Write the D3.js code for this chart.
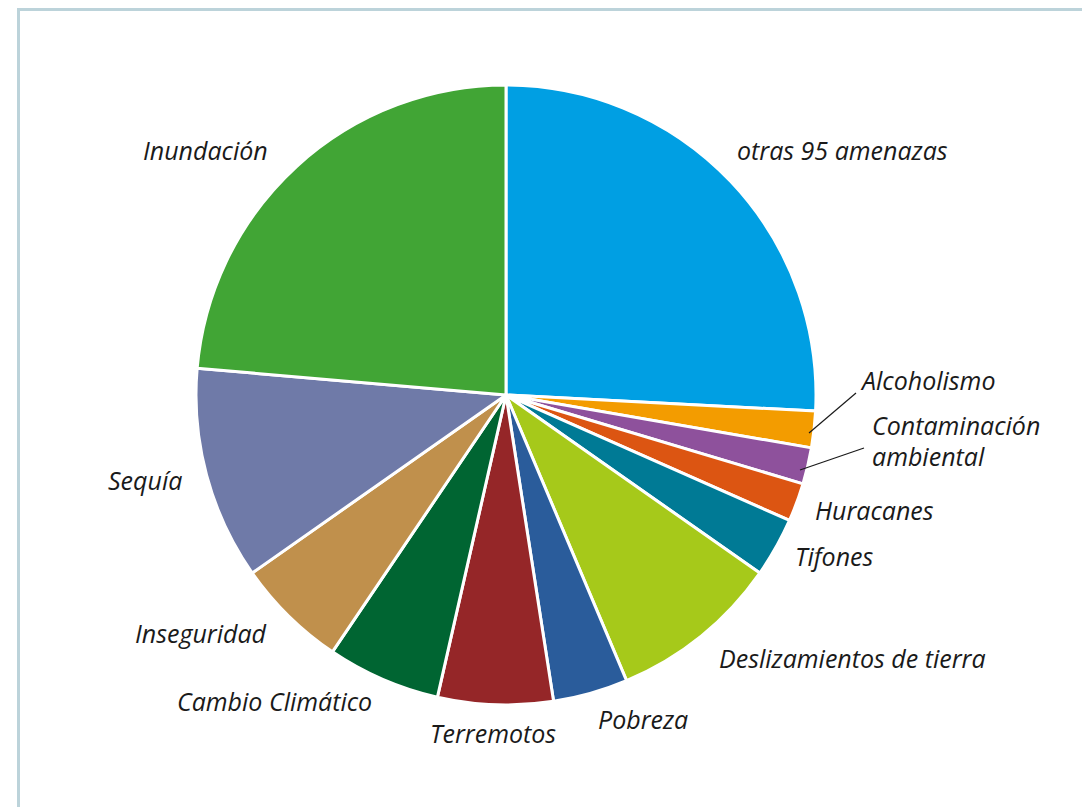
<!DOCTYPE html>
<html>
<head>
<meta charset="utf-8">
<script src="https://cdn.jsdelivr.net/npm/d3@7"></script>
<style>
  html, body { margin: 0; padding: 0; background: #fff; }
  svg text { font-family: "Open Sans", "Noto Sans", sans-serif; font-style: italic; font-size: 25px; fill: #1a1a1a; }
</style>
</head>
<body>
<div id="chart"></div>
<script>
const width = 1082;
const height = 807;

// Datos (porcentaje aproximado de menciones)
const categories = [
    "otras 95 amenazas", "Alcoholismo", "Contaminación ambiental", "Huracanes", "Tifones",
    "Deslizamientos de tierra", "Pobreza", "Terremotos", "Cambio Climático",
    "Inseguridad", "Sequía", "Inundación"
];
const values = [25.8, 1.9, 1.9, 2.0, 3.1, 8.9, 3.9, 6.0, 5.9, 5.8, 11.1, 23.6];
const colors = [
    "#009fe3", "#f39c00", "#8e519c", "#dc5512", "#007a95",
    "#a6c91a", "#2a5c9b", "#952628", "#006532",
    "#c0904c", "#6f7aa8", "#41a535"
];

// Posición de las etiquetas (layout)
const labelLayout = [
    { x: 737, y: 160, anchor: "start" },
    { x: 862, y: 390, anchor: "start", line: [[856, 393], [809, 433]] },
    { x: 872, y: 435, anchor: "start", line: [[864, 448], [800, 470]] },
    { x: 815, y: 520, anchor: "start" },
    { x: 795, y: 566, anchor: "start" },
    { x: 719, y: 668, anchor: "start" },
    { x: 598, y: 729, anchor: "start" },
    { x: 430, y: 743, anchor: "start" },
    { x: 177, y: 711, anchor: "start" },
    { x: 135, y: 643, anchor: "start" },
    { x: 108, y: 490, anchor: "start" },
    { x: 143, y: 160, anchor: "start" }
];

const cx = 506, cy = 395, radius = 310;

const svg = d3.select("#chart").append("svg")
    .attr("width", width)
    .attr("height", height);

// Marco
svg.append("path")
    .attr("d", `M 18.5 ${height} L 18.5 9.5 L ${width} 9.5`)
    .attr("fill", "none")
    .attr("stroke", "#bcd3da")
    .attr("stroke-width", 3);

const data = categories.map((c, i) => ({ name: c, value: values[i], color: colors[i], i: i }));

const pie = d3.pie()
    .value(d => d.value)
    .sort(null);

const arc = d3.arc()
    .innerRadius(0)
    .outerRadius(radius);

const g = svg.append("g")
    .attr("transform", `translate(${cx},${cy})`);

g.selectAll("path.slice")
    .data(pie(data))
    .enter().append("path")
    .attr("class", "slice")
    .attr("d", arc)
    .attr("fill", d => d.data.color)
    .attr("stroke", "#fff")
    .attr("stroke-width", 3)
    .attr("stroke-linejoin", "round");

// Etiquetas
const labels = svg.append("g");
data.forEach((d, i) => {
    const lay = labelLayout[i];
    if (lay.line) {
        labels.append("line")
            .attr("x1", lay.line[0][0]).attr("y1", lay.line[0][1])
            .attr("x2", lay.line[1][0]).attr("y2", lay.line[1][1])
            .attr("stroke", "#1a1a1a")
            .attr("stroke-width", 1.2);
    }
    if (d.name === "Contaminación ambiental") {
        labels.append("text").attr("x", lay.x).attr("y", lay.y).text("Contaminación");
        labels.append("text").attr("x", lay.x).attr("y", lay.y + 31).text("ambiental");
    } else {
        labels.append("text")
            .attr("x", lay.x)
            .attr("y", lay.y)
            .attr("text-anchor", lay.anchor)
            .text(d.name);
    }
});
</script>
</body>
</html>
